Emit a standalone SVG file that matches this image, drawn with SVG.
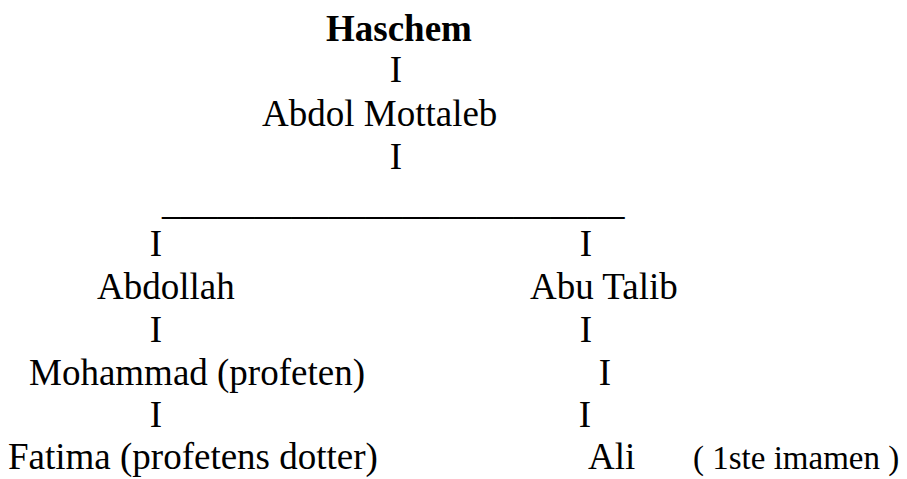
<svg xmlns="http://www.w3.org/2000/svg" width="907" height="479" viewBox="0 0 907 479">
<style>
text{font-size:37px;fill:#000}
.b{font-weight:bold}
.m{text-anchor:middle}
.s{font-size:33px}
</style>
<rect width="907" height="479" fill="#fff"/>
<g font-family="'Liberation Serif', Tinos, 'Times New Roman', Times, 'DejaVu Serif', serif">
<g id="connectors">
<text class="m" x="396" y="82">I</text>
<text class="m" x="396" y="169">I</text>
<text x="162" y="214">_________________________</text>
<text class="m" x="156" y="256">I</text>
<text class="m" x="586" y="256">I</text>
<text class="m" x="156" y="342">I</text>
<text class="m" x="586" y="342">I</text>
<text class="m" x="605" y="385">I</text>
<text class="m" x="156" y="427">I</text>
<text class="m" x="585" y="427">I</text>
</g>
<g id="haschem"><text class="b" x="326" y="41">Haschem</text></g>
<g id="abdol-mottaleb"><text x="262" y="126">Abdol Mottaleb</text></g>
<g id="abdollah"><text x="97" y="299">Abdollah</text></g>
<g id="abu-talib"><text x="530" y="299">Abu Talib</text></g>
<g id="mohammad"><text x="29" y="385">Mohammad (profeten)</text></g>
<g id="fatima"><text x="8" y="469">Fatima (profetens dotter)</text></g>
<g id="ali"><text x="588" y="469">Ali</text><text class="s" x="693" y="469">( 1ste imamen )</text></g>
</g>
</svg>
